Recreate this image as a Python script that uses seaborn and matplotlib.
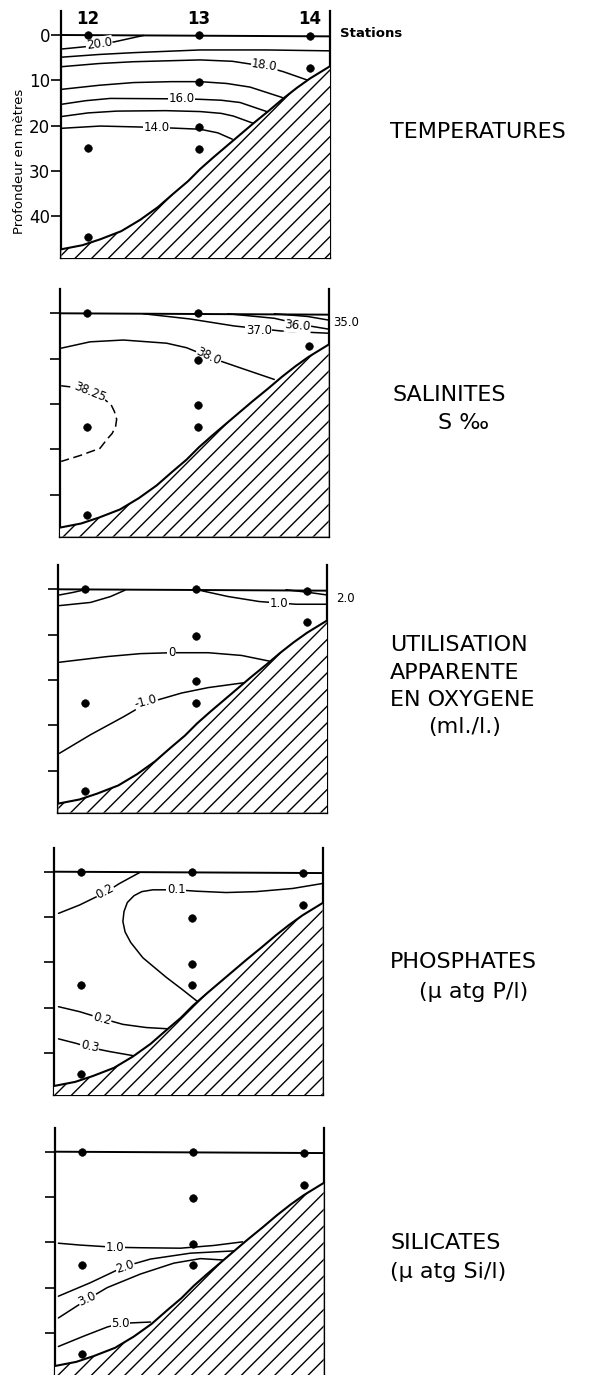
import matplotlib
matplotlib.use("Agg")
import matplotlib.pyplot as plt
import seaborn as sns

sns.set_theme(style="white")
plt.rcParams['font.family'] = ['DejaVu Sans']
plt.rcParams['hatch.linewidth'] = 1.0
plt.rcParams['hatch.color'] = 'black'
plt.rcParams['text.color'] = 'black'
plt.rcParams['ytick.color'] = 'black'
plt.rcParams['xtick.color'] = 'black'
plt.rcParams['axes.labelcolor'] = 'black'

# ---------------- data ----------------
stations = [12, 13, 14]
station_labels = ["12", "13", "14"]
depth_ticks = [0, 10, 20, 30, 40]
depth_tick_labels = ["0", "10", "20", "30", "40"]

sample_station = [12, 12, 12, 13, 13, 13, 13, 14, 14]
sample_depth = [0.0, 25.0, 44.6, 0.0, 10.3, 20.3, 25.1, 0.3, 7.3]

bottom_x = [11.76, 11.95, 12.11, 12.30, 12.47, 12.63, 12.77, 12.90, 13.01, 13.13,
            13.25, 13.37, 13.49, 13.63, 13.76, 13.88, 14.0, 14.18]
bottom_d = [47.3, 46.4, 45.1, 43.3, 40.8, 38.0, 35.0, 32.3, 29.6, 27.0,
            24.5, 22.0, 19.5, 16.7, 14.0, 11.7, 9.6, 6.9]

surface_x = [11.76, 14.18]
surface_d = [0.0, 0.3]

# Temperatures
t20_x = [11.76, 11.97, 12.24, 12.50]
t20_d = [3.1, 2.6, 1.5, 0.1]
t19_x = [11.76, 12.10, 12.41, 13.01, 13.61, 14.18]
t19_d = [4.9, 4.3, 3.9, 3.3, 3.3, 3.5]
t18_x = [11.76, 12.10, 12.41, 13.01, 13.30, 13.46, 13.63, 13.76, 13.97]
t18_d = [7.0, 6.3, 5.9, 5.5, 5.8, 6.4, 7.2, 8.1, 9.9]
t17_x = [11.76, 12.10, 12.41, 12.75, 13.01, 13.25, 13.46, 13.75]
t17_d = [12.0, 11.1, 10.5, 10.3, 10.3, 10.7, 11.5, 13.8]
t16_x = [11.76, 11.98, 12.20, 12.84, 13.01, 13.20, 13.37, 13.61]
t16_d = [15.3, 14.5, 14.0, 14.1, 14.2, 14.4, 14.9, 16.9]
t15_x = [11.76, 12.00, 12.26, 12.70, 13.01, 13.20, 13.31, 13.49]
t15_d = [18.0, 17.2, 16.8, 16.7, 16.9, 17.3, 17.9, 19.5]
t14_x = [11.76, 12.11, 12.62, 13.01, 13.17, 13.30]
t14_d = [20.6, 20.1, 20.4, 20.8, 21.6, 23.0]

# Salinites
s38_x = [11.77, 12.03, 12.33, 12.72, 12.90, 13.02, 13.20, 13.39, 13.69]
s38_d = [7.7, 6.3, 5.9, 6.6, 7.6, 8.8, 10.5, 12.1, 14.6]
s3825_x = [11.77, 11.94, 12.08, 12.15, 12.22, 12.25, 12.27, 12.26, 12.23, 12.18, 12.12, 11.94, 11.77]
s3825_d = [16.0, 16.5, 17.6, 18.8, 20.2, 21.7, 23.4, 25.0, 26.5, 27.9, 29.8, 31.4, 32.7]
s37_x = [12.51, 12.93, 13.33, 13.75, 14.18]
s37_d = [0.1, 1.25, 2.8, 3.9, 4.4]
s36_x = [13.27, 13.69, 13.96, 14.18]
s36_d = [0.1, 1.1, 2.6, 3.5]
s35_x = [13.69, 13.99, 14.18]
s35_d = [0.1, 0.7, 1.5]

# Utilisation apparente en oxygene
o2_x = [13.81, 14.02, 14.18]
o2_d = [0.1, 0.7, 1.25]
o1_x = [13.02, 13.29, 13.57, 13.90, 14.18]
o1_d = [0.15, 1.6, 2.7, 3.3, 3.3]
oa_x = [11.77, 12.05, 12.23, 12.36]
oa_d = [3.6, 2.9, 1.6, 0.2]
ob_x = [11.77, 11.89, 11.98]
ob_d = [1.25, 0.7, 0.2]
o0_x = [11.77, 12.20, 12.50, 12.78, 13.11, 13.41, 13.69]
o0_d = [16.1, 14.85, 14.2, 14.0, 14.0, 14.6, 16.0]
om1_x = [11.77, 12.05, 12.35, 12.56, 12.87, 13.11, 13.44]
om1_d = [36.2, 32.1, 28.1, 25.1, 22.9, 21.7, 20.6]

# Phosphates
p02a_x = [11.80, 11.99, 12.22, 12.35, 12.53]
p02a_d = [9.2, 7.35, 4.6, 2.6, 0.2]
p01_x = [14.18, 13.91, 13.58, 13.31, 13.04, 12.86, 12.65, 12.55, 12.48, 12.42,
         12.39, 12.38, 12.40, 12.45, 12.56, 12.77, 12.92, 13.07]
p01_d = [2.6, 3.7, 4.4, 4.6, 4.3, 4.0, 4.0, 4.4, 5.3, 6.8,
         8.8, 11.0, 13.3, 15.6, 19.0, 23.3, 26.1, 29.0]
p02b_x = [11.80, 11.99, 12.19, 12.38, 12.59, 12.80]
p02b_d = [29.8, 30.9, 32.4, 33.7, 34.4, 34.7]
p03_x = [11.80, 11.96, 12.08, 12.26, 12.47]
p03_d = [36.9, 37.9, 38.8, 39.7, 40.6]

# Silicates
si1_x = [11.79, 11.98, 12.30, 12.53, 12.89, 13.19, 13.45]
si1_d = [20.2, 20.6, 21.1, 21.2, 21.3, 20.7, 19.9]
si2_x = [11.79, 12.08, 12.39, 12.62, 12.98, 13.37]
si2_d = [31.9, 28.9, 25.3, 23.7, 22.4, 21.9]
si3_x = [11.79, 12.05, 12.23, 12.53, 12.83, 13.07, 13.27]
si3_d = [36.7, 32.6, 30.0, 27.0, 24.6, 23.6, 23.9]
si5_x = [11.79, 12.02, 12.23, 12.35, 12.62]
si5_d = [43.0, 40.7, 38.7, 37.9, 37.6]

# ---------------- layout ----------------
W, H = 589, 1375
fig = plt.figure(figsize=(W / 100, H / 100), dpi=100)

XMIN, XMAX = 11.76, 14.18
DTOP, DBOT = -5.3, 49.3
PX_PER_ST = 111.0
PX_PER_M = 4.53

# (x pixel of station 12, y pixel of depth 0) per panel
anchors = [(88, 35), (86.7, 313.3), (85, 589.3), (80.7, 871.7), (81.7, 1151.7)]

# lines: (x, d, style, label, label_x, label_d, rotation)
panels = [
    [(t20_x, t20_d, '-', "20.0", 12.10, 1.9, 8),
     (t19_x, t19_d, '-', None, 0, 0, 0),
     (t18_x, t18_d, '-', "18.0", 13.59, 6.8, -8),
     (t17_x, t17_d, '-', None, 0, 0, 0),
     (t16_x, t16_d, '-', "16.0", 12.84, 14.1, 0),
     (t15_x, t15_d, '-', None, 0, 0, 0),
     (t14_x, t14_d, '-', "14.0", 12.62, 20.4, 0)],
    [(s38_x, s38_d, '-', "38.0", 13.10, 9.4, -25),
     (s3825_x, s3825_d, (0, (6, 3)), "38.25", 12.03, 17.3, -22),
     (s37_x, s37_d, '-', "37.0", 13.55, 3.7, 0),
     (s36_x, s36_d, '-', "36.0", 13.90, 2.8, -5),
     (s35_x, s35_d, '-', "35.0", 14.34, 2.1, 0)],
    [(o2_x, o2_d, '-', "2.0", 14.35, 2.0, 0),
     (o1_x, o1_d, '-', "1.0", 13.75, 3.1, 0),
     (oa_x, oa_d, '-', None, 0, 0, 0),
     (ob_x, ob_d, '-', None, 0, 0, 0),
     (o0_x, o0_d, '-', "0", 12.78, 13.9, 0),
     (om1_x, om1_d, '-', "-1.0", 12.55, 24.8, 15)],
    [(p02a_x, p02a_d, '-', "0.2", 12.22, 4.4, 28),
     (p01_x, p01_d, '-', "0.1", 12.86, 4.0, 0),
     (p02b_x, p02b_d, '-', "0.2", 12.19, 32.5, -15),
     (p03_x, p03_d, '-', "0.3", 12.08, 38.6, -12)],
    [(si1_x, si1_d, '-', "1.0", 12.30, 21.1, 0),
     (si2_x, si2_d, '-', "2.0", 12.39, 25.3, 18),
     (si3_x, si3_d, '-', "3.0", 12.05, 32.4, 25),
     (si5_x, si5_d, '-', "5.0", 12.35, 37.9, 0)],
]

for i, (x12, y0) in enumerate(anchors):
    left_px = x12 - (12 - XMIN) * PX_PER_ST
    width_px = (XMAX - XMIN) * PX_PER_ST
    top_px = y0 + DTOP * PX_PER_M
    bot_px = y0 + DBOT * PX_PER_M
    ax = fig.add_axes([left_px / W, 1 - bot_px / H, width_px / W, (bot_px - top_px) / H])
    ax.set_facecolor('white')
    ax.set_xlim(XMIN, XMAX)
    ax.set_ylim(DBOT, DTOP)

    # surface line
    sns.lineplot(x=surface_x, y=surface_d, ax=ax, sort=False, estimator=None,
                 color='black', lw=1.4, zorder=2)
    # isolines
    for (lx, ld, ls, lab, tx, td, rot) in panels[i]:
        sns.lineplot(x=lx, y=ld, ax=ax, sort=False, estimator=None,
                     color='black', lw=1.1, linestyle=ls, zorder=2)
        if lab:
            ax.text(tx, td, lab, fontsize=8.5, ha='center', va='center', rotation=rot,
                    color='black', zorder=6, clip_on=False,
                    bbox=dict(facecolor='white', edgecolor='none', pad=0.3))
    # sea floor
    ax.fill_between(bottom_x, bottom_d, DBOT, facecolor='white', edgecolor='black',
                    hatch='//', lw=0, zorder=3)
    sns.lineplot(x=bottom_x, y=bottom_d, ax=ax, sort=False, estimator=None,
                 color='black', lw=1.5, zorder=4)
    # sample points
    if i == 1:
        sx = [s for s, d in zip(sample_station, sample_depth) if not (s == 14 and d < 1)]
        sd = [d for s, d in zip(sample_station, sample_depth) if not (s == 14 and d < 1)]
    else:
        sx, sd = sample_station, sample_depth
    sns.scatterplot(x=sx, y=sd, ax=ax, color='black', s=30, edgecolor='black',
                    zorder=7, clip_on=False)

    # frame
    for side in ['left', 'right', 'bottom']:
        ax.spines[side].set_visible(True)
        ax.spines[side].set_color('black')
        ax.spines[side].set_linewidth(1.6)
    ax.spines['top'].set_visible(False)
    ax.set_xticks([])
    ax.set_yticks(depth_ticks)
    ax.tick_params(axis='y', left=True, direction='out', length=7, width=1.2,
                   color='black', pad=1, labelsize=12, labelcolor='black',
                   labelleft=(i == 0))
    if i == 0:
        ax.set_yticklabels(depth_tick_labels)
        for st, lab in zip(stations, station_labels):
            ax.text(st, -3.6, lab, fontsize=12, fontweight='bold', ha='center',
                    va='center', clip_on=False)
        ax.text(14.27, -0.4, "Stations", fontsize=9.5, fontweight='bold',
                ha='left', va='center', clip_on=False)
    ax.set_xlabel("")
    ax.set_ylabel("")
    ax.grid(False)

# panel titles
TFS = 16
fig.text(390 / W, 1 - 132 / H, "TEMPERATURES", fontsize=TFS, ha='left', va='center')
fig.text(393 / W, 1 - 395 / H, "SALINITES", fontsize=TFS, ha='left', va='center')
fig.text(464 / W, 1 - 423 / H, "S \u2030", fontsize=TFS, ha='center', va='center')
fig.text(390 / W, 1 - 645 / H, "UTILISATION", fontsize=TFS, ha='left', va='center')
fig.text(390 / W, 1 - 673 / H, "APPARENTE", fontsize=TFS, ha='left', va='center')
fig.text(390 / W, 1 - 700 / H, "EN OXYGENE", fontsize=TFS, ha='left', va='center')
fig.text(465 / W, 1 - 727 / H, "(ml./l.)", fontsize=TFS, ha='center', va='center')
fig.text(390 / W, 1 - 962 / H, "PHOSPHATES", fontsize=TFS, ha='left', va='center')
fig.text(474 / W, 1 - 992 / H, "(\u03bc atg P/l)", fontsize=TFS, ha='center', va='center')
fig.text(390 / W, 1 - 1243 / H, "SILICATES", fontsize=TFS, ha='left', va='center')
fig.text(448 / W, 1 - 1272 / H, "(\u03bc atg Si/l)", fontsize=TFS, ha='center', va='center')

fig.text(20 / W, 1 - 161 / H, "Profondeur en m\u00e8tres", fontsize=9.5, rotation=90,
         ha='center', va='center')

fig.savefig("out.png", dpi=100, facecolor='white')
